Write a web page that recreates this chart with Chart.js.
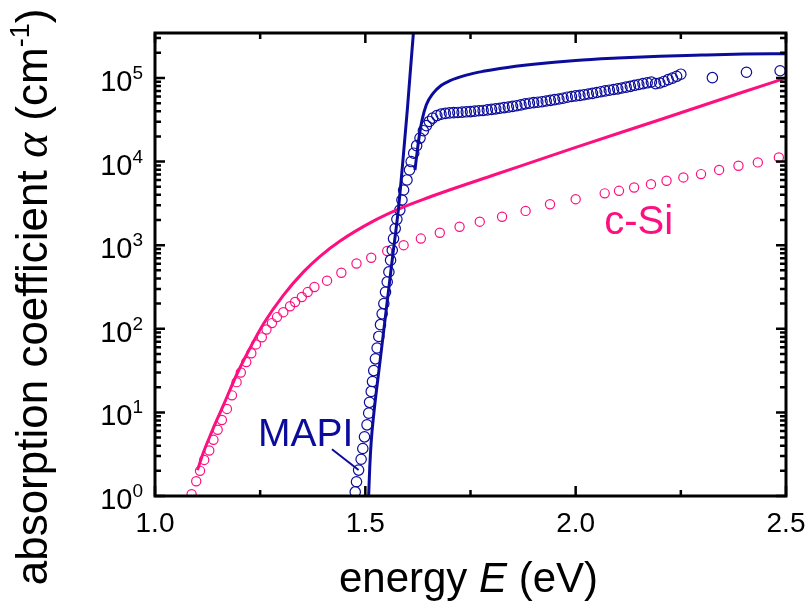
<!DOCTYPE html>
<html>
<head>
<meta charset="utf-8">
<script src="https://cdn.jsdelivr.net/npm/chart.js@4.4.1/dist/chart.umd.min.js"></script>
<style>
  html, body { margin: 0; padding: 0; background: #fff; }
  #wrap { width: 810px; height: 605px; }
</style>
</head>
<body>
<div id="wrap"><canvas id="chart" width="810" height="605"></canvas></div>
<script>
// c-Si: measured points (circles) and model curve
const csiE = [1.087, 1.098, 1.107, 1.117, 1.129, 1.139, 1.149, 1.159, 1.171, 1.183,
  1.194, 1.204, 1.217, 1.229, 1.240, 1.254, 1.265, 1.278, 1.290, 1.305,
  1.321, 1.333, 1.349, 1.363, 1.379, 1.409, 1.443, 1.479, 1.514, 1.552,
  1.591, 1.632, 1.677, 1.724, 1.772, 1.825, 1.881, 1.939, 2.000, 2.069,
  2.103, 2.139, 2.179, 2.216, 2.256, 2.298, 2.341, 2.387, 2.433, 2.483]
const csiAlpha = [1.05, 1.5, 2.0, 2.7, 3.5, 4.7, 6.2, 8.1, 11, 16,
  23, 30, 40, 51, 65, 79, 98, 117, 138, 158,
  186, 209, 240, 275, 316, 376, 468, 603, 708, 851,
  1000, 1200, 1410, 1660, 1910, 2190, 2570, 3090, 3550, 4170,
  4470, 4900, 5370, 5890, 6460, 7080, 7940, 8910, 9770, 11200]

const csiFitE = [1.101, 1.115, 1.131, 1.147, 1.163, 1.194, 1.226, 1.258, 1.305, 1.353,
  1.393, 1.44, 1.52, 1.583, 1.65, 1.70, 1.80, 2.0, 2.2, 2.4, 2.5]
const csiFitAlpha = [2.04, 3.31, 5.25, 8.13, 12.3, 28.2, 58.9, 115, 251, 479,
  741, 1122, 1950, 2754, 3715, 4571, 6761, 14790, 31620, 68390, 100000]

// MAPI: measured points (circles), band-edge line and model curve
const mapiE = [1.476, 1.479, 1.484, 1.490, 1.494, 1.498, 1.504, 1.508, 1.510, 1.514,
  1.517, 1.520, 1.524, 1.528, 1.532, 1.536, 1.540, 1.544, 1.548, 1.552,
  1.556, 1.560, 1.564, 1.567, 1.571, 1.575, 1.582, 1.587, 1.591, 1.599,
  1.605, 1.609, 1.615, 1.622, 1.630, 1.638, 1.645, 1.652,
  1.66, 1.67, 1.68, 1.69, 1.70, 1.71, 1.72, 1.73, 1.74, 1.75,
  1.76, 1.77, 1.78, 1.79, 1.80, 1.81, 1.82, 1.83, 1.84, 1.85,
  1.86, 1.87, 1.88, 1.89, 1.90, 1.91, 1.92, 1.93, 1.94, 1.95,
  1.96, 1.97, 1.98, 1.99, 2.00, 2.01, 2.02, 2.03, 2.04, 2.05,
  2.06, 2.07, 2.08, 2.09, 2.10, 2.11, 2.12, 2.13, 2.14, 2.15,
  2.16, 2.17, 2.18, 2.19, 2.20, 2.21, 2.22, 2.23, 2.24, 2.25,
  2.325, 2.406, 2.486]
const mapiAlpha = [1.12, 1.48, 2.04, 2.75, 3.7, 5.1, 7.1, 9.8, 13.2, 17.8,
  23.4, 31.6, 43.7, 58.9, 81, 112, 151, 200, 275, 363,
  479, 661, 871, 1200, 1580, 2040, 2630, 3470, 4570, 6030,
  7940, 10000, 12600, 15500, 19100, 23400, 26900, 30200,
  33100, 35500, 36900, 37700, 38200, 38500, 38700, 39000, 39400, 39600,
  40100, 40600, 40900, 41500, 42100, 42700, 43400, 44200, 44900, 45700,
  46600, 47600, 49000, 49900, 50700, 51300, 52000, 53000, 54000, 55000,
  56000, 57300, 58900, 60000, 61000, 61900, 63100, 64300, 65500, 67000,
  68500, 70000, 71400, 72800, 74100, 75900, 77600, 79400, 81700, 83600,
  85500, 87500, 89500, 85500, 87100, 90800, 95500, 99500, 104700, 110900,
  100900, 117000, 122000]

const mapiEdgeE = [1.5078, 1.5105, 1.514, 1.520, 1.535, 1.550, 1.565, 1.579, 1.590, 1.600, 1.6143, 1.617]
const mapiEdgeAlpha = [0.98, 2.2, 4.5, 9.5, 41, 174, 741, 2820, 11200, 42700, 347000, 480000]

const mapiFitE = [1.618, 1.624, 1.628, 1.635, 1.645, 1.660, 1.680, 1.700, 1.740, 1.780,
  1.820, 1.900, 2.000, 2.100, 2.200, 2.300, 2.400, 2.500]
const mapiFitAlpha = [7940, 14100, 20000, 31600, 47900, 64600, 81300, 92300, 108000, 120000,
  130000, 146000, 162000, 173000, 182000, 188000, 193000, 195000]

const xMajor = [1.0, 1.5, 2.0, 2.5]
const xMinor = [1.25, 1.75, 2.25]
const yExponents = [0, 1, 2, 3, 4, 5]

const NAVY = '#0c0c9c'
const PINK = '#fd0f80'
const SANS = '"Liberation Sans", Arial, sans-serif'
const SERIF = '"Liberation Serif", "Times New Roman", serif'

function pts(xs, ys) {
  return xs.map((x, i) => ({ x, y: ys[i] }))
}

// draw a row of text pieces with their own fonts / baseline offsets
function drawRuns(ctx, runs, x, y, align) {
  let w = 0
  runs.forEach((r) => {
    ctx.font = r.font
    r.w = ctx.measureText(r.text).width
    w += r.w
  })
  let cx = align === 'center' ? x - w / 2 : align === 'right' ? x - w : x
  ctx.textAlign = 'left'
  runs.forEach((r) => {
    ctx.font = r.font
    ctx.fillText(r.text, cx, y + (r.dy || 0))
    cx += r.w
  })
}

const framePlugin = {
  id: 'frame',
  afterDraw(chart) {
    const { ctx, chartArea: a } = chart
    const xs = chart.scales.x
    const ys = chart.scales.y
    ctx.save()
    ctx.strokeStyle = '#000'
    ctx.lineCap = 'butt'

    // inward ticks on all four sides
    const major = 10
    const minor = 6
    ctx.lineWidth = 2.5
    ctx.beginPath()
    xMajor.concat(xMinor).forEach((v) => {
      const px = xs.getPixelForValue(v)
      const len = xMajor.includes(v) ? major : minor
      ctx.moveTo(px, a.bottom); ctx.lineTo(px, a.bottom - len)
      ctx.moveTo(px, a.top); ctx.lineTo(px, a.top + len)
    })
    yExponents.forEach((k) => {
      for (let m = 1; m <= 9; m++) {
        const v = m * Math.pow(10, k)
        if (v > ys.max) break
        const py = ys.getPixelForValue(v)
        const len = m === 1 ? major : minor
        ctx.moveTo(a.left, py); ctx.lineTo(a.left + len, py)
        ctx.moveTo(a.right, py); ctx.lineTo(a.right - len, py)
      }
    })
    ctx.stroke()

    ctx.lineWidth = 3
    ctx.strokeRect(a.left, a.top, a.right - a.left, a.bottom - a.top)

    // tick labels
    ctx.fillStyle = '#000'
    ctx.textBaseline = 'alphabetic'
    xMajor.forEach((v) => {
      drawRuns(ctx, [{ text: v.toFixed(1), font: `28px ${SANS}` }], xs.getPixelForValue(v), a.bottom + 36, 'center')
    })
    yExponents.forEach((k) => {
      const py = ys.getPixelForValue(Math.pow(10, k))
      drawRuns(ctx, [
        { text: '10', font: `29px ${SANS}` },
        { text: String(k), font: `19px ${SANS}`, dy: -12 },
      ], a.left - 12, py + 13, 'right')
    })

    // axis titles
    drawRuns(ctx, [
      { text: 'energy ', font: `42px ${SANS}` },
      { text: 'E', font: `italic 42px ${SANS}` },
      { text: ' (eV)', font: `42px ${SANS}` },
    ], (a.left + a.right) / 2 - 2, 592, 'center')

    ctx.save()
    ctx.translate(47, 297)
    ctx.rotate(-Math.PI / 2)
    drawRuns(ctx, [
      { text: 'absorption coefficient ', font: `44px ${SANS}` },
      { text: '\u03b1', font: `italic 48px ${SERIF}` },
      { text: ' (cm', font: `44px ${SANS}` },
      { text: '-1', font: `27px ${SANS}`, dy: -18 },
      { text: ')', font: `44px ${SANS}` },
    ], 0, 0, 'center')
    ctx.restore()

    // curve labels
    ctx.fillStyle = NAVY
    drawRuns(ctx, [{ text: 'MAPI', font: `39px ${SANS}` }], xs.getPixelForValue(1.245), ys.getPixelForValue(3.98), 'left')
    ctx.strokeStyle = NAVY
    ctx.lineWidth = 2
    ctx.beginPath()
    ctx.moveTo(xs.getPixelForValue(1.4207), ys.getPixelForValue(3.62))
    ctx.lineTo(xs.getPixelForValue(1.484), ys.getPixelForValue(2.05))
    ctx.stroke()

    ctx.fillStyle = PINK
    drawRuns(ctx, [{ text: 'c-Si', font: `40px ${SANS}` }], xs.getPixelForValue(2.068), ys.getPixelForValue(1350), 'left')
    ctx.restore()
  },
}

const lineSet = (label, data, color) => ({
  label, data, showLine: true, borderColor: color, borderWidth: 3,
  pointRadius: 0, cubicInterpolationMode: 'monotone', clip: 0, order: 0,
})
const dotSet = (label, data, color, r) => ({
  label, data, showLine: false, borderColor: color, backgroundColor: 'rgba(0,0,0,0)',
  pointRadius: r, pointBorderWidth: 1.2, pointStyle: 'circle', clip: 0, order: 1,
})

new Chart(document.getElementById('chart'), {
  type: 'scatter',
  data: {
    datasets: [
      lineSet('MAPI edge', pts(mapiEdgeE, mapiEdgeAlpha), NAVY),
      lineSet('MAPI model', pts(mapiFitE, mapiFitAlpha), NAVY),
      lineSet('c-Si model', pts(csiFitE, csiFitAlpha), PINK),
      dotSet('MAPI data', pts(mapiE, mapiAlpha), NAVY, 5.2),
      dotSet('c-Si data', pts(csiE, csiAlpha), PINK, 4.6),
    ],
  },
  options: {
    responsive: false,
    animation: false,
    layout: { padding: { top: 33, right: 24, left: 0, bottom: 0 } },
    plugins: { legend: { display: false }, tooltip: { enabled: false } },
    scales: {
      x: {
        type: 'linear', min: 1.0, max: 2.5,
        grid: { display: false }, border: { display: false },
        ticks: { display: false },
        afterFit: (s) => { s.height = 109 },
      },
      y: {
        type: 'logarithmic', min: 1, max: 345000,
        grid: { display: false }, border: { display: false },
        ticks: { display: false },
        afterFit: (s) => { s.width = 155 },
      },
    },
  },
  plugins: [framePlugin],
})
</script>
</body>
</html>
